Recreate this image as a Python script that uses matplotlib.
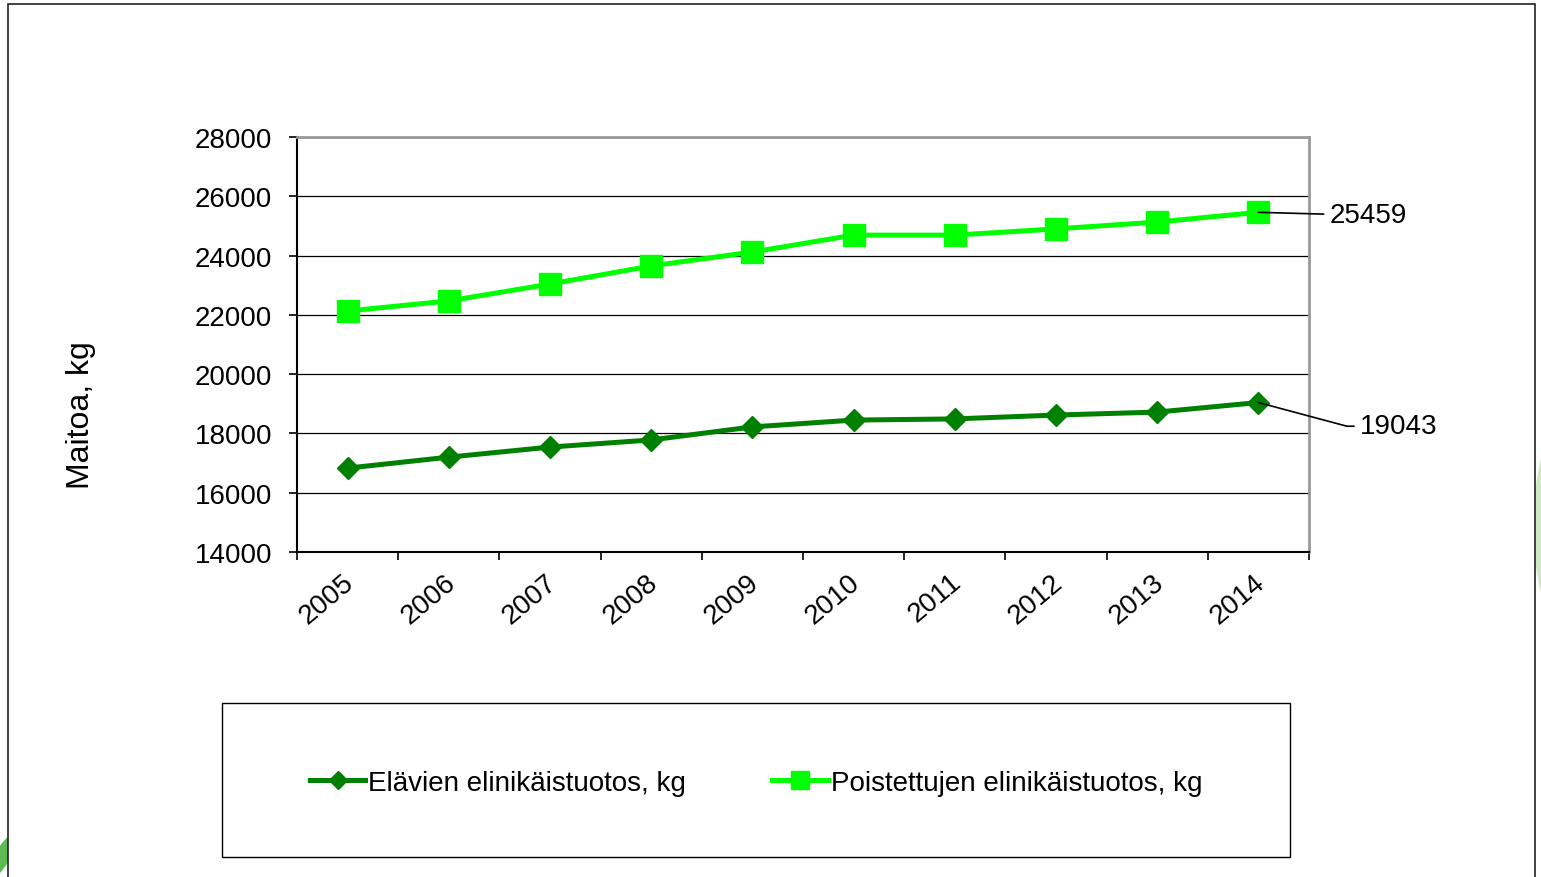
import matplotlib.pyplot as plt
import matplotlib.transforms as mtransforms
from matplotlib.patches import Rectangle, Ellipse

years = ['2005', '2006', '2007', '2008', '2009', '2010', '2011', '2012', '2013', '2014']
elavien = [16830, 17200, 17540, 17780, 18220, 18450, 18490, 18620, 18720, 19043]
poistettujen = [22130, 22470, 23040, 23650, 24120, 24690, 24690, 24900, 25130, 25459]

plt.rcParams['font.family'] = ['Liberation Sans', 'DejaVu Sans']

fig = plt.figure(figsize=(15.41, 8.78), dpi=100)

# decorative green arcs behind the frame
fig.patches.append(Ellipse((1.06, 0.40), 0.13, 0.40, transform=fig.transFigure,
                           facecolor='#cde9c6', edgecolor='none', zorder=-2))
fig.patches.append(Ellipse((0.0, 0.02), 0.012, 0.07, angle=-20, transform=fig.transFigure,
                           facecolor='#5cbb52', edgecolor='none', zorder=-2))
# outer frame (white inside, covers the arcs)
fig.patches.append(Rectangle((8 / 1541, -0.05), (1535 - 8) / 1541, 1.05 - 5 / 878,
                             transform=fig.transFigure, facecolor='white',
                             edgecolor='#222222', linewidth=1.2, zorder=-1))

ax = fig.add_axes([297 / 1541, 1 - 553 / 878, (1309 - 297) / 1541, (553 - 138) / 878])
ax.patch.set_alpha(0)
x = list(range(len(years)))

ax.plot(x, elavien, color='#008000', linewidth=3.6, marker='D', markersize=11,
        label='Elävien elinikäistuotos, kg', zorder=3)
ax.plot(x, poistettujen, color='#00ff00', linewidth=3.6, marker='s', markersize=16,
        label='Poistettujen elinikäistuotos, kg', zorder=3)

ax.set_xlim(-0.5, len(years) - 0.5)
ax.set_ylim(14000, 28000)
ax.set_yticks(range(14000, 28001, 2000))
ax.tick_params(axis='y', labelsize=20, length=6, width=1.2, direction='out', pad=12)
ax.grid(axis='y', color='black', linewidth=0.9)
ax.set_axisbelow(True)

ax.set_xticks([i - 0.5 for i in range(len(years) + 1)])
ax.set_xticklabels([])
ax.tick_params(axis='x', which='major', length=6, width=1.2, direction='out')
ax.set_xticks(x, minor=True)
ax.set_xticklabels(years, minor=True, rotation=40, ha='right', rotation_mode='anchor',
                   fontsize=20)
ax.tick_params(axis='x', which='minor', length=0, pad=12)
shift = mtransforms.ScaledTranslation(-5 / 100, 0, fig.dpi_scale_trans)
for lab in ax.get_xticklabels(minor=True):
    lab.set_transform(lab.get_transform() + shift)

for side in ['top', 'right']:
    ax.spines[side].set_color('#999999')
    ax.spines[side].set_linewidth(2)
for side in ['left', 'bottom']:
    ax.spines[side].set_color('black')
    ax.spines[side].set_linewidth(1.5)

ax.set_ylabel('Maitoa, kg', fontsize=23)
ax.yaxis.set_label_coords(-0.199, 0.333)

ax.annotate(str(poistettujen[-1]), xy=(x[-1], poistettujen[-1]),
            xytext=(x[-1] + 0.7, poistettujen[-1]), fontsize=20, va='center_baseline',
            annotation_clip=False,
            arrowprops=dict(arrowstyle='-', color='black', linewidth=1.2,
                            shrinkA=2, shrinkB=0))
ax.annotate(str(elavien[-1]), xy=(x[-1], elavien[-1]),
            xytext=(x[-1] + 1.0, elavien[-1] - 800), fontsize=20, va='center',
            annotation_clip=False,
            arrowprops=dict(arrowstyle='-', color='black', linewidth=1.2,
                            shrinkA=2, shrinkB=0,
                            connectionstyle='angle,angleA=0,angleB=-15,rad=0'))

# legend box
fig.patches.append(Rectangle((222 / 1541, 1 - 858 / 878), (1290 - 222) / 1541,
                             (858 - 704) / 878, transform=fig.transFigure,
                             facecolor='white', edgecolor='black', linewidth=1, zorder=0))
leg = fig.legend(loc='center', bbox_to_anchor=(222 / 1541, 1 - 861 / 878,
                                               (1290 - 222) / 1541, (858 - 704) / 878),
                 ncol=2, frameon=False, fontsize=20,
                 handlelength=2.0, handletextpad=0.1, columnspacing=3.1,
                 borderaxespad=0, markerscale=0.8)

fig.savefig('out.png', dpi=100)
